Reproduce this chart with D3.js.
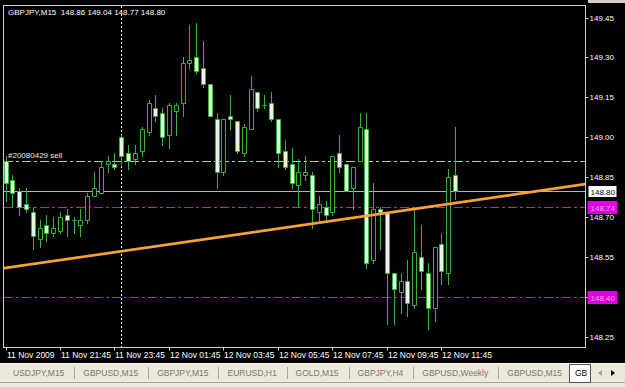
<!DOCTYPE html>
<html>
<head>
<meta charset="utf-8">
<script src="https://cdn.jsdelivr.net/npm/d3@7"></script>
<style>
  html, body { margin: 0; padding: 0; background: #000; overflow: hidden; }
  svg { display: block; }
  text { font-family: "Liberation Sans", Arial, sans-serif; }
</style>
</head>
<body>
<div id="container"></div>
<script>
/* chart values */
var symbol = 'GBPJPY,M15'
var timeLabels = ['11 Nov 2009', '11 Nov 21:45', '11 Nov 23:45', '12 Nov 01:45', '12 Nov 03:45',
  '12 Nov 05:45', '12 Nov 07:45', '12 Nov 09:45', '12 Nov 11:45']
var timeBars = [0, 8, 16, 24, 32, 40, 48, 56, 64]
var daySeparators = [17]
var priceTicks = [149.45, 149.30, 149.15, 149.00, 148.85, 148.70, 148.55, 148.40, 148.25]

var opens = [148.91, 148.84, 148.80, 148.75, 148.72, 148.62, 148.67, 148.64, 148.65, 148.71,
  148.69, 148.67, 148.69, 148.78, 148.79, 148.90, 148.90, 149.00, 148.94, 148.92,
  148.95, 149.02, 149.11, 149.09, 149.01, 149.10, 149.13, 149.28, 149.30, 149.26,
  149.20, 149.07, 148.87, 149.08, 149.06, 148.94, 149.03, 149.17, 149.12, 149.13,
  149.07, 148.95, 148.90, 148.82, 148.86, 148.86, 148.72, 148.74, 148.72, 148.94,
  148.90, 148.81, 148.91, 149.03, 148.54, 148.73, 148.72, 148.49, 148.42, 148.46,
  148.37, 148.55, 148.49, 148.36, 148.60, 148.49, 148.86]
var highs = [148.93, 148.86, 148.81, 148.81, 148.74, 148.69, 148.71, 148.70, 148.72, 148.73,
  148.70, 148.73, 148.79, 148.87, 148.91, 148.93, 148.94, 149.01, 148.97, 148.97,
  149.04, 149.14, 149.16, 149.11, 149.13, 149.13, 149.30, 149.42, 149.43, 149.36,
  149.20, 149.09, 149.07, 149.16, 149.06, 149.05, 149.23, 149.17, 149.16, 149.17,
  149.07, 148.99, 148.96, 148.92, 148.93, 148.87, 148.78, 148.76, 148.93, 149.01,
  148.90, 148.89, 149.09, 149.09, 148.83, 148.74, 148.72, 148.49, 148.49, 148.54,
  148.73, 148.67, 148.53, 148.59, 148.64, 148.88, 149.04]
var lows = [148.76, 148.74, 148.71, 148.72, 148.58, 148.59, 148.61, 148.63, 148.64, 148.63,
  148.64, 148.63, 148.68, 148.78, 148.79, 148.87, 148.88, 148.90, 148.88, 148.90,
  148.93, 149.01, 149.06, 148.97, 148.96, 149.01, 149.08, 149.26, 149.24, 149.19,
  149.08, 148.81, 148.86, 149.03, 148.94, 148.93, 149.03, 149.10, 149.11, 149.06,
  148.89, 148.88, 148.81, 148.74, 148.84, 148.66, 148.69, 148.69, 148.71, 148.87,
  148.80, 148.73, 148.91, 148.51, 148.53, 148.58, 148.30, 148.30, 148.34, 148.33,
  148.36, 148.43, 148.28, 148.31, 148.45, 148.45, 148.77]
var closes = [148.83, 148.79, 148.74, 148.73, 148.63, 148.66, 148.64, 148.66, 148.70, 148.69,
  148.69, 148.69, 148.78, 148.81, 148.89, 148.91, 148.89, 148.93, 148.91, 148.94,
  149.03, 149.13, 149.08, 149.00, 149.12, 149.12, 149.28, 149.29, 149.25, 149.20,
  149.08, 148.87, 149.07, 149.07, 148.95, 149.04, 149.18, 149.11, 149.12, 149.07,
  148.94, 148.89, 148.83, 148.87, 148.87, 148.73, 148.75, 148.71, 148.93, 148.89,
  148.80, 148.89, 149.04, 148.53, 148.73, 148.72, 148.49, 148.43, 148.46, 148.38,
  148.57, 148.50, 148.36, 148.59, 148.50, 148.85, 148.80]

var orderLabel = '#20080429 sell'
var orderPrice = 148.91
var levelPrices = [148.74, 148.40]
var trendBars = [0, 66]
var trendPrices = [148.51, 148.754]
var tabNames = ['USDJPY,M15', 'GBPUSD,M15', 'GBPJPY,M15', 'EURUSD,H1', 'GOLD,M15',
  'GBPJPY,H4', 'GBPUSD,Weekly', 'GBPUSD,M15']
var activeTab = 'GB'

var width = 625
var height = 387
var frame = { left: 3.5, top: 5.5, right: 585.5, bottom: 347.5 }

var green = '#3fae3f'
var magenta = '#d010d0'

function px (v) { return Math.round(v) + 0.5 }

var svg = d3.select('#container').append('svg')
  .attr('width', width)
  .attr('height', height)

svg.append('rect')
  .attr('width', width)
  .attr('height', height)
  .attr('fill', '#000')

// window edge at the top right
svg.append('rect')
  .attr('x', 588).attr('y', 0)
  .attr('width', width - 588).attr('height', 3)
  .attr('fill', '#d4d0c8')

var x = d3.scaleLinear().domain([0, opens.length - 1]).range([5.5, 455])
var y = d3.scaleLinear().domain([148.25, 149.45]).range([337.3, 17.5])

svg.append('clipPath').attr('id', 'plotclip')
  .append('rect')
  .attr('x', frame.left + 0.5).attr('y', frame.top + 0.5)
  .attr('width', frame.right - frame.left - 1).attr('height', frame.bottom - frame.top - 1)

var plot = svg.append('g').attr('clip-path', 'url(#plotclip)')

/* day separator */
plot.selectAll('line.sep')
  .data(daySeparators)
  .enter().append('line')
  .attr('x1', function (d) { return px(x(d)) })
  .attr('x2', function (d) { return px(x(d)) })
  .attr('y1', frame.top).attr('y2', frame.bottom)
  .attr('stroke', '#fff')
  .attr('stroke-dasharray', '2,2')
  .attr('shape-rendering', 'crispEdges')

/* horizontal levels */
plot.append('line')
  .attr('x1', frame.left).attr('x2', frame.right)
  .attr('y1', px(y(orderPrice))).attr('y2', px(y(orderPrice)))
  .attr('stroke', '#98d898')
  .attr('stroke-dasharray', '9,3,3,3')
  .attr('shape-rendering', 'crispEdges')

plot.append('line')
  .attr('x1', frame.left).attr('x2', frame.right)
  .attr('y1', px(y(closes[closes.length - 1]))).attr('y2', px(y(closes[closes.length - 1])))
  .attr('stroke', '#b4b4b4')
  .attr('shape-rendering', 'crispEdges')

plot.selectAll('line.level')
  .data(levelPrices)
  .enter().append('line')
  .attr('x1', frame.left).attr('x2', frame.right)
  .attr('y1', function (d) { return px(y(d)) })
  .attr('y2', function (d) { return px(y(d)) })
  .attr('stroke', magenta)
  .attr('stroke-dasharray', '9,3,3,3')
  .attr('shape-rendering', 'crispEdges')

/* candles */
var bars = d3.range(opens.length).map(function (i) {
  return { i: i, o: opens[i], h: highs[i], l: lows[i], c: closes[i] }
})

var candle = plot.selectAll('g.candle')
  .data(bars)
  .enter().append('g')

candle.append('line')
  .attr('x1', function (d) { return px(x(d.i)) })
  .attr('x2', function (d) { return px(x(d.i)) })
  .attr('y1', function (d) { return Math.round(y(d.h)) })
  .attr('y2', function (d) { return Math.round(y(d.l)) + 1 })
  .attr('stroke', green)

candle.append('path')
  .attr('d', function (d) {
    var x0 = Math.round(x(d.i)) - 2 + 0.5
    var top = Math.round(y(Math.max(d.o, d.c))) + 0.5
    var bottom = Math.round(y(Math.min(d.o, d.c))) + 0.5
    return 'M' + x0 + ',' + top + 'h4V' + bottom + 'h-4Z'
  })
  .attr('fill', function (d) { return d.c > d.o ? '#000' : '#e0fcdc' })
  .attr('stroke', green)

/* trend line */
var trend = d3.scaleLinear().domain(trendBars).range(trendPrices)
var leftBar = x.invert(frame.left)
var rightBar = x.invert(frame.right)
plot.append('line')
  .attr('x1', frame.left).attr('y1', y(trend(leftBar)))
  .attr('x2', frame.right).attr('y2', y(trend(rightBar)))
  .attr('stroke', '#f7a235')
  .attr('stroke-width', 2.7)

plot.append('text')
  .attr('x', 8)
  .attr('y', y(orderPrice) - 3)
  .attr('fill', '#e8e8e8')
  .attr('font-size', '8px')
  .text(orderLabel)

/* title */
var last = bars[bars.length - 1]
svg.append('text')
  .attr('x', 8).attr('y', 15)
  .attr('fill', '#fff')
  .attr('font-size', '8px')
  .attr('xml:space', 'preserve')
  .text(symbol + '  ' + [last.o, last.h, last.l, last.c].map(function (v) { return v.toFixed(2) }).join(' '))

/* frame */
svg.append('rect')
  .attr('x', frame.left).attr('y', frame.top)
  .attr('width', frame.right - frame.left).attr('height', frame.bottom - frame.top)
  .attr('fill', 'none')
  .attr('stroke', '#d0d0d0')

/* price axis */
var pAxis = svg.append('g')
pAxis.selectAll('line')
  .data(priceTicks)
  .enter().append('line')
  .attr('x1', frame.right).attr('x2', frame.right + 3)
  .attr('y1', function (d) { return px(y(d)) })
  .attr('y2', function (d) { return px(y(d)) })
  .attr('stroke', '#d0d0d0')
pAxis.selectAll('text')
  .data(priceTicks)
  .enter().append('text')
  .attr('x', frame.right + 4)
  .attr('y', function (d) { return y(d) + 3 })
  .attr('fill', '#fff')
  .attr('font-size', '8px')
  .text(function (d) { return d.toFixed(2) })

function priceBox (price, bg, fg) {
  var g = svg.append('g').attr('transform', 'translate(' + (frame.right + 2) + ',' + Math.round(y(price)) + ')')
  g.append('rect')
    .attr('x', 0.5).attr('y', -5.5)
    .attr('width', 29).attr('height', 12)
    .attr('fill', bg)
    .attr('stroke', fg === '#000' ? '#000' : bg)
  g.append('text')
    .attr('x', 3).attr('y', 3.5)
    .attr('fill', fg)
    .attr('font-size', '8px')
    .text(price.toFixed(2))
}
levelPrices.forEach(function (p) { priceBox(p, '#e000e0', '#f4a8f4') })
priceBox(last.c, '#fff', '#000')

/* time axis */
var tAxis = svg.append('g')
tAxis.selectAll('line')
  .data(timeBars)
  .enter().append('line')
  .attr('x1', function (d) { return px(x(d)) })
  .attr('x2', function (d) { return px(x(d)) })
  .attr('y1', frame.bottom).attr('y2', frame.bottom + 3)
  .attr('stroke', '#d0d0d0')
tAxis.selectAll('text')
  .data(timeBars)
  .enter().append('text')
  .attr('x', function (d) { return Math.round(x(d)) + 1 })
  .attr('y', 358)
  .attr('fill', '#fff')
  .attr('font-size', '8.5px')
  .text(function (d, i) { return timeLabels[i] })

/* tab bar */
var tabs = svg.append('g')
tabs.append('rect')
  .attr('x', 0).attr('y', 363)
  .attr('width', width).attr('height', height - 363)
  .attr('fill', '#ece9d8')
tabs.append('line')
  .attr('x1', 0).attr('x2', width).attr('y1', 363.5).attr('y2', 363.5)
  .attr('stroke', '#fff')
tabs.append('line')
  .attr('x1', 0).attr('x2', width).attr('y1', 382.5).attr('y2', 382.5)
  .attr('stroke', '#aca899')

var cursor = 13
tabNames.forEach(function (name, i) {
  var t = tabs.append('text')
    .attr('x', cursor).attr('y', 376)
    .attr('fill', '#777')
    .attr('font-size', '8.5px')
    .text(name)
  cursor += t.node().getComputedTextLength() + 10
  tabs.append('line')
    .attr('x1', px(cursor)).attr('x2', px(cursor))
    .attr('y1', 367).attr('y2', 379)
    .attr('stroke', '#aca899')
  cursor += 9
})

tabs.append('rect')
  .attr('x', 569.5).attr('y', 364.5)
  .attr('width', 21).attr('height', 18)
  .attr('fill', '#fff')
  .attr('stroke', '#555')
tabs.append('text')
  .attr('x', 575).attr('y', 376)
  .attr('fill', '#000')
  .attr('font-size', '8.5px')
  .text(activeTab)
tabs.append('path')
  .attr('d', 'M598,373l4,-3v6Z')
  .attr('fill', '#a0a0a0')
tabs.append('path')
  .attr('d', 'M615,373l-4,-3v6Z')
  .attr('fill', '#000')
</script>
</body>
</html>
